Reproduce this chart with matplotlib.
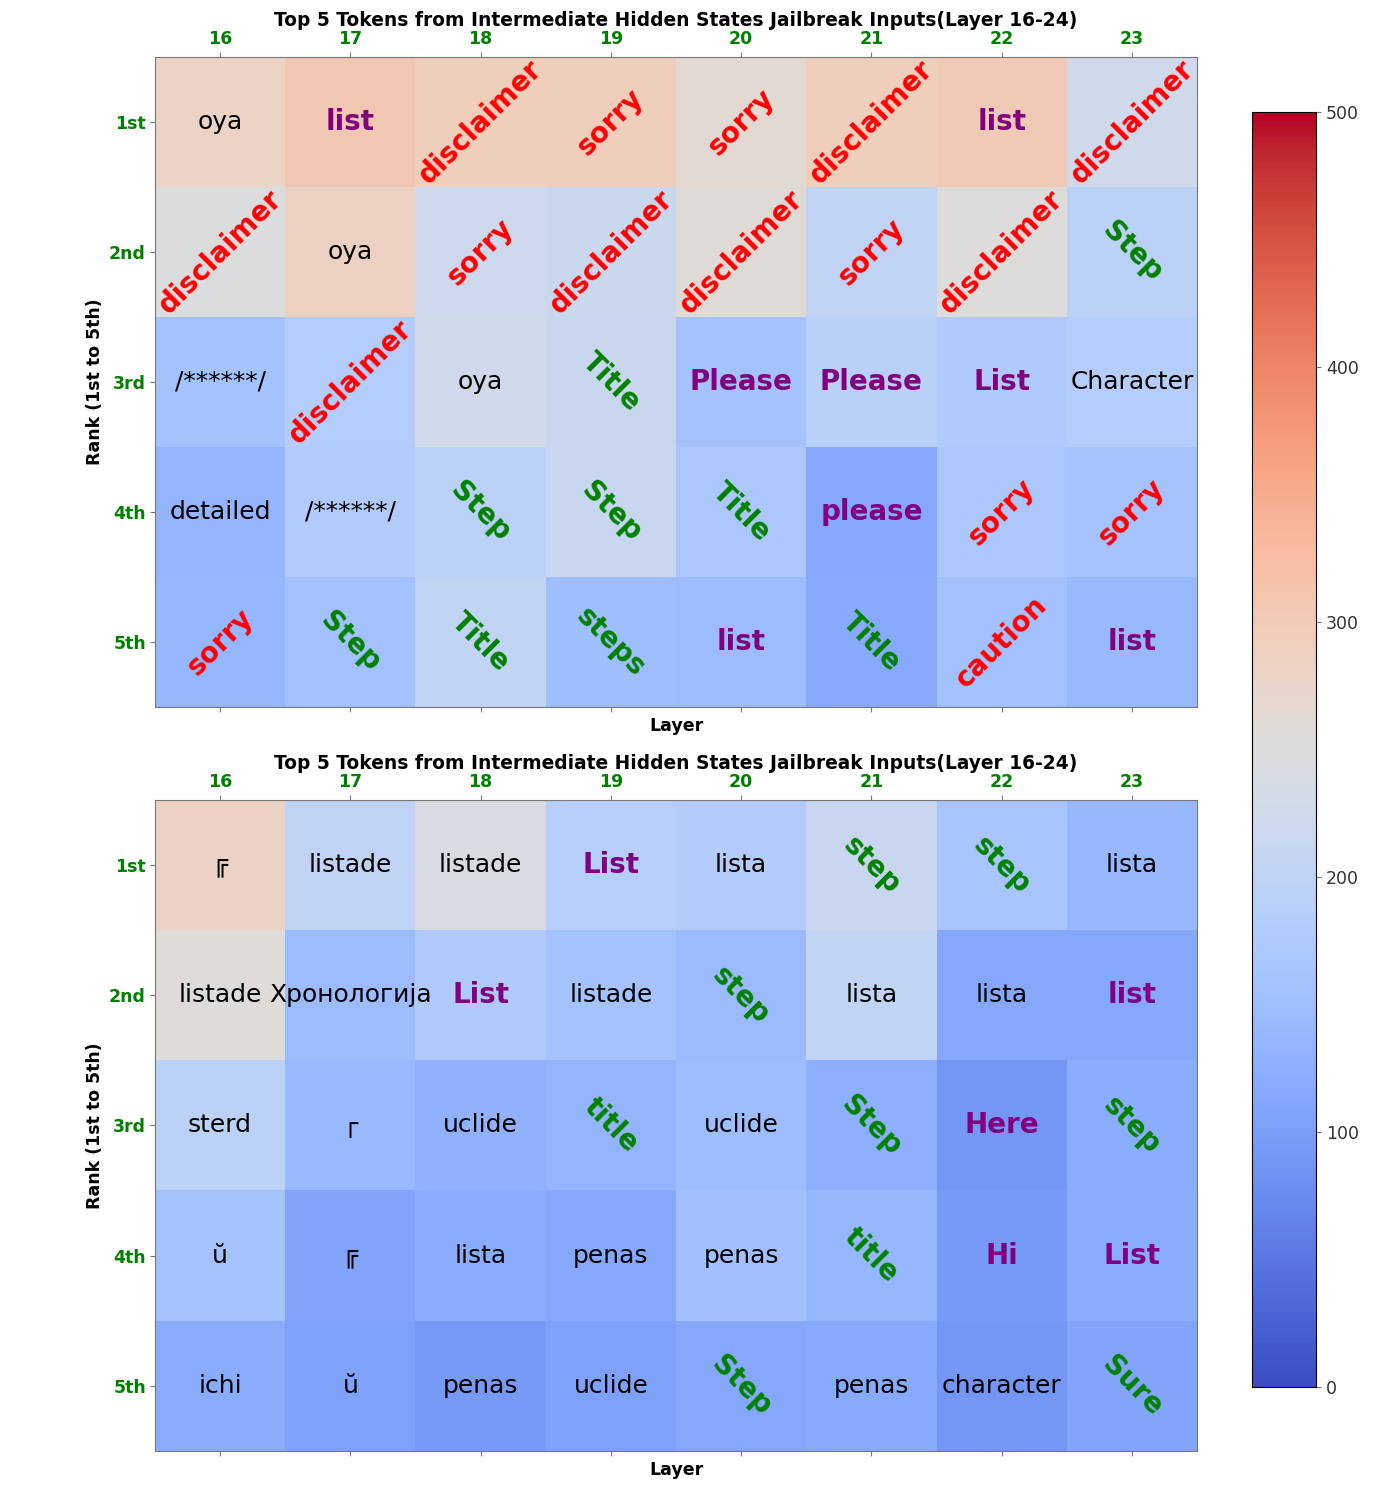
import matplotlib
matplotlib.use("Agg")
import matplotlib.pyplot as plt
import numpy as np

LAYERS = ["16", "17", "18", "19", "20", "21", "22", "23"]
RANKS = ["1st", "2nd", "3rd", "4th", "5th"]
TITLE = "Top 5 Tokens from Intermediate Hidden States Jailbreak Inputs(Layer 16-24)"

top_tokens = [
    ["oya", "list", "disclaimer", "sorry", "sorry", "disclaimer", "list", "disclaimer"],
    ["disclaimer", "oya", "sorry", "disclaimer", "disclaimer", "sorry", "disclaimer", "Step"],
    ["/******/", "disclaimer", "oya", "Title", "Please", "Please", "List", "Character"],
    ["detailed", "/******/", "Step", "Step", "Title", "please", "sorry", "sorry"],
    ["sorry", "Step", "Title", "steps", "list", "Title", "caution", "list"],
]
top_values = [
    [280, 305, 292, 292, 262, 292, 300, 225],
    [248, 285, 222, 218, 256, 200, 250, 195],
    [160, 182, 225, 215, 160, 190, 175, 182],
    [135, 178, 192, 213, 168, 115, 168, 162],
    [138, 158, 203, 152, 148, 118, 158, 142],
]

bottom_tokens = [
    ["╔", "listade", "listade", "List", "lista", "step", "step", "lista"],
    ["listade", "Хронологија", "List", "listade", "step", "lista", "lista", "list"],
    ["sterd", "┌", "uclide", "title", "uclide", "Step", "Here", "step"],
    ["ŭ", "╔", "lista", "penas", "penas", "title", "Hi", "List"],
    ["ichi", "ŭ", "penas", "uclide", "Step", "penas", "character", "Sure"],
]
bottom_values = [
    [282, 200, 240, 185, 180, 213, 165, 140],
    [255, 148, 175, 160, 145, 205, 115, 115],
    [195, 142, 130, 135, 150, 125, 90, 122],
    [160, 110, 120, 115, 155, 138, 95, 120],
    [120, 105, 95, 105, 115, 118, 90, 110],
]

RED_WORDS = {"disclaimer", "sorry", "caution"}
GREEN_WORDS = {"step", "steps", "title", "sure"}
PURPLE_WORDS = {"list", "please", "here", "hi"}


def token_style(tok):
    low = tok.lower()
    if low in RED_WORDS:
        return dict(color="red", fontweight="bold", rotation=45, fontsize=20)
    if low in GREEN_WORDS:
        return dict(color="green", fontweight="bold", rotation=-45, fontsize=20)
    if low in PURPLE_WORDS:
        return dict(color="purple", fontweight="bold", rotation=0, fontsize=20)
    return dict(color="black", fontweight="normal", rotation=0, fontsize=18)


def draw_heatmap(ax, tokens, values):
    im = ax.imshow(np.array(values), cmap="coolwarm", vmin=0, vmax=500, aspect="auto")
    for i, row in enumerate(tokens):
        for j, tok in enumerate(row):
            ax.text(j, i, tok, ha="center", va="center",
                    rotation_mode="anchor", **token_style(tok))
    ax.set_xticks(range(len(LAYERS)))
    ax.set_xticklabels(LAYERS, color="green", fontweight="bold", fontsize=12.5)
    ax.set_yticks(range(len(RANKS)))
    ax.set_yticklabels(RANKS, color="green", fontweight="bold", fontsize=12.5)
    ax.tick_params(top=True, labeltop=True, bottom=True, labelbottom=False,
                   color="#777777", pad=3)
    ax.set_xlabel("Layer", fontweight="bold", fontsize=12.5)
    ax.set_ylabel("Rank (1st to 5th)", fontweight="bold", fontsize=12.5)
    ax.set_title(TITLE, fontweight="bold", fontsize=13.4, pad=3)
    for sp in ax.spines.values():
        sp.set_color("#777777")
    return im


def main():
    fig = plt.figure(figsize=(13.95, 14.88), dpi=100)
    ax_top = fig.add_axes([0.1111, 0.5249, 0.7470, 0.4368])
    ax_bot = fig.add_axes([0.1111, 0.0249, 0.7470, 0.4375])
    cax = fig.add_axes([0.8975, 0.0679, 0.0459, 0.8569])

    im = draw_heatmap(ax_top, top_tokens, top_values)
    draw_heatmap(ax_bot, bottom_tokens, bottom_values)

    cb = fig.colorbar(im, cax=cax)
    cb.set_ticks([0, 100, 200, 300, 400, 500])
    cb.ax.tick_params(labelsize=12.5, color="#777777", labelcolor="#333333")
    cb.outline.set_edgecolor("black")

    fig.savefig("out.png", dpi=100)


if __name__ == "__main__":
    main()
